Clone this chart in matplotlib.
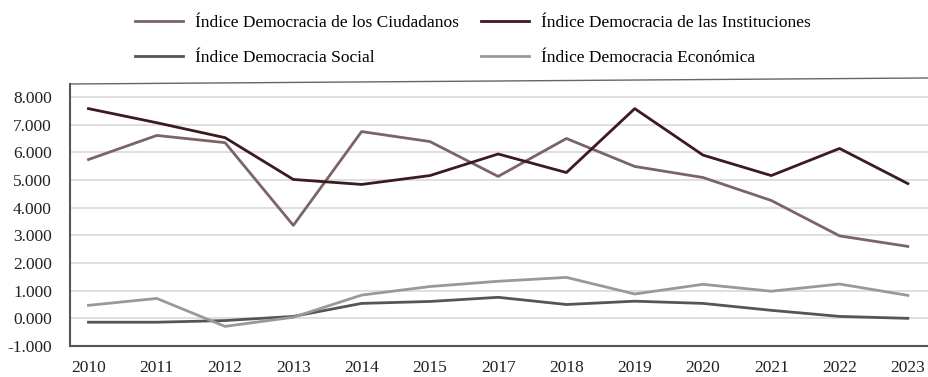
import matplotlib.pyplot as plt
import matplotlib.ticker as mticker
from matplotlib.lines import Line2D

anios = ["2010", "2011", "2012", "2013", "2014", "2015", "2017", "2018",
         "2019", "2020", "2021", "2022", "2023"]

ciudadanos = [5.74, 6.61, 6.35, 3.36, 6.75, 6.39, 5.13, 6.50, 5.49, 5.09, 4.26, 2.98, 2.60]
instituciones = [7.58, 7.07, 6.53, 5.02, 4.84, 5.16, 5.94, 5.27, 7.58, 5.90, 5.16, 6.14, 4.87]
social = [-0.14, -0.14, -0.08, 0.07, 0.54, 0.61, 0.76, 0.50, 0.62, 0.54, 0.29, 0.07, 0.00]
economica = [0.47, 0.72, -0.29, 0.04, 0.84, 1.15, 1.34, 1.48, 0.88, 1.23, 0.98, 1.24, 0.83]

plt.rcParams['font.family'] = ['Liberation Serif', 'DejaVu Serif']

fig = plt.figure(figsize=(9.29, 3.77), dpi=100)
ax = fig.add_axes([0.0754, 0.0822, 0.9246, 0.6950])

x = range(len(anios))
l1, = ax.plot(x, ciudadanos, color="#7b6465", lw=2.0, label="Índice Democracia de los Ciudadanos")
l2, = ax.plot(x, instituciones, color="#3b1a20", lw=2.0, label="Índice Democracia de las Instituciones")
l3, = ax.plot(x, social, color="#555555", lw=2.0, label="Índice Democracia Social")
l4, = ax.plot(x, economica, color="#999999", lw=2.0, label="Índice Democracia Económica")

ax.set_xticks(list(x))
ax.set_xticklabels(anios)
ax.set_xlim(-0.27, 12.31)
ax.set_ylim(-1.0, 8.47)
ax.set_yticks(range(-1, 9))
ax.yaxis.set_major_formatter(mticker.FuncFormatter(lambda v, p: f"{v:.3f}"))
ax.grid(axis="y", color="#d9d9d9", lw=1.2)
ax.set_axisbelow(True)
ax.tick_params(length=0, labelsize=12.5, colors="#222222")
ax.tick_params(axis="x", pad=10)
ax.tick_params(axis="y", pad=13)

for s in ["top", "right"]:
    ax.spines[s].set_visible(False)
for s in ["left", "bottom"]:
    ax.spines[s].set_color("#555555")
    ax.spines[s].set_linewidth(1.5)

# linea superior inclinada
ax.add_line(Line2D([0, 1], [1.0, 1.023], transform=ax.transAxes, color="#666666",
                   lw=1.0, clip_on=False))

fig.legend(handles=[l1, l3, l2, l4], ncol=2, loc="upper left",
           bbox_to_anchor=(0.129, 1.003), frameon=False, fontsize=12.5,
           handlelength=2.75, handletextpad=0.68, columnspacing=1.3,
           labelspacing=1.12)

fig.savefig("out.png", dpi=100)
